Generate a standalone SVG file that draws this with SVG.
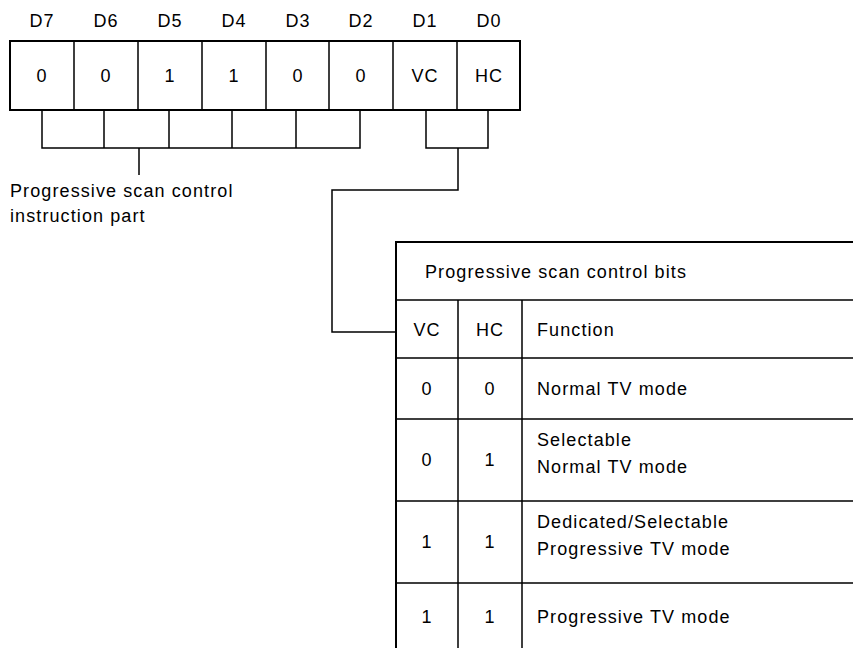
<svg xmlns="http://www.w3.org/2000/svg" width="853" height="648" viewBox="0 0 853 648">
<style>
text{font-family:"Liberation Sans",Arial,sans-serif;font-size:18px;letter-spacing:1.1px;fill:#000}
.c{text-anchor:middle}
.ln{stroke:#000;stroke-width:1.5;fill:none}
.bx{stroke:#000;stroke-width:2;fill:none}
</style>
<rect width="853" height="648" fill="#fff"/>
<g id="register">
<rect class="bx" x="10" y="41" width="510" height="69"/>
<path class="ln" d="M74 41V110M138 41V110M202 41V110M266 41V110M329 41V110M393 41V110M457 41V110"/>
<text class="c" x="42" y="27">D7</text>
<text class="c" x="106" y="27">D6</text>
<text class="c" x="170" y="27">D5</text>
<text class="c" x="234" y="27">D4</text>
<text class="c" x="298" y="27">D3</text>
<text class="c" x="361" y="27">D2</text>
<text class="c" x="425" y="27">D1</text>
<text class="c" x="489" y="27">D0</text>
<text class="c" x="42" y="82">0</text>
<text class="c" x="106" y="82">0</text>
<text class="c" x="170" y="82">1</text>
<text class="c" x="234" y="82">1</text>
<text class="c" x="298" y="82">0</text>
<text class="c" x="361" y="82">0</text>
<text class="c" x="425" y="82">VC</text>
<text class="c" x="489" y="82">HC</text>
</g>
<g id="instruction-label">
<text x="10" y="197">Progressive scan control</text>
<text x="10" y="222">instruction part</text>
</g>
<g id="connectors">
<path class="ln" d="M42 110V148H360V110M104 110V148M169 110V148M232 110V148M296 110V148M139 148V175"/>
<path class="ln" d="M426 110V148H488V110M458 148V190H332V332H396"/>
</g>
<g id="table">
<path class="bx" d="M853 242H396V648"/>
<path class="ln" d="M396 300H853M396 358H853M396 419H853M396 501H853M396 583H853M458 300V648M522 300V648"/>
<text x="425" y="278">Progressive scan control bits</text>
<text class="c" x="427" y="336">VC</text>
<text class="c" x="490" y="336">HC</text>
<text x="537" y="336">Function</text>
<text class="c" x="427" y="395">0</text>
<text class="c" x="490" y="395">0</text>
<text x="537" y="395">Normal TV mode</text>
<text class="c" x="427" y="466">0</text>
<text class="c" x="490" y="466">1</text>
<text x="537" y="446">Selectable</text>
<text x="537" y="473">Normal TV mode</text>
<text class="c" x="427" y="548">1</text>
<text class="c" x="490" y="548">1</text>
<text x="537" y="528">Dedicated/Selectable</text>
<text x="537" y="555">Progressive TV mode</text>
<text class="c" x="427" y="623">1</text>
<text class="c" x="490" y="623">1</text>
<text x="537" y="623">Progressive TV mode</text>
</g>
</svg>
